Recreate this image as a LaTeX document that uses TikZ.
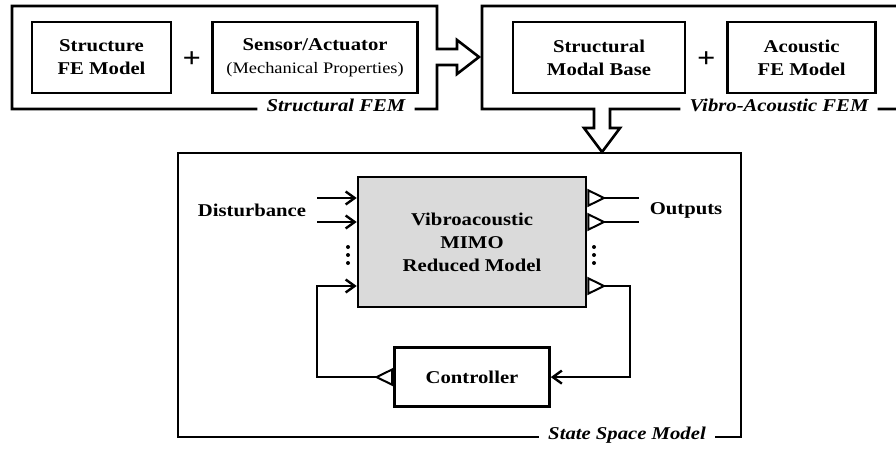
\documentclass[tikz,border=0pt]{standalone}
\usepackage{fontspec}
\setmainfont{Liberation Serif}[FakeStretch=1.15]
\definecolor{mimogray}{RGB}{218,218,218}
\usetikzlibrary{arrows.meta, positioning, calc}

\begin{document}
\begin{tikzpicture}[
  x=1pt, y=-1pt,
  line width=2.6pt,
  font=\fontsize{18}{23}\selectfont\bfseries,
  port/.tip={Triangle[open, reversed, length=19pt, width=18pt, line width=2pt]},
  barb/.tip={Straight Barb[length=9pt, width=13pt, line width=2.4pt]},
  box/.style={draw, line width=2.6pt, align=center, inner sep=0pt},
  frametag/.style={font=\fontsize{18}{23}\selectfont\bfseries\itshape,
                   inner xsep=8pt, inner ysep=0pt, text height=12pt, text depth=8pt},
  inarr/.style={-barb},
  outarr/.style={port-},
  looparr/.style={port-barb}
]
\useasboundingbox (0,0) rectangle (896,452);

% FE models
\node[box, minimum width=139, minimum height=71] (sfe) at (101.5,57.5) {Structure\\FE Model};
\node[box, minimum width=205, minimum height=71, right=39pt of sfe] (sensor)
  {Sensor/Actuator\\{\mdseries\fontsize{16}{20}\selectfont (Mechanical Properties)}};
\node (plus1) at ($(sfe.east)!0.5!(sensor.west)+(0,2)$) {\fontsize{28}{28}\selectfont +};

\node[box, minimum width=172, minimum height=71] (smb) at (599,57.5) {Structural\\Modal Base};
\node[box, minimum width=148, minimum height=71, right=40pt of smb] (afe) {Acoustic\\FE Model};
\node (plus2) at ($(smb.east)!0.5!(afe.west)+(0,2)$) {\fontsize{28}{28}\selectfont +};

% frames with hollow arrows
\node[frametag] (sfemtag) at (336,109) {Structural FEM};
\draw (sfemtag.east) -- (437,109) -- (437,65) -- (457,65) -- (457,74) -- (479,57)
  -- (457,40) -- (457,49) -- (437,49) -- (437,6) -- (12,6) -- (12,109) -- (sfemtag.west);

\node[frametag] (vatag) at (779,109) {Vibro-Acoustic FEM};
\draw (vatag.west) -- (610,109) -- (610,128) -- (620,128) -- (602,152) -- (584,128)
  -- (594,128) -- (594,109) -- (482,109) -- (482,6) -- (910,6) -- (910,109) -- (vatag.east);

\node[frametag] (sstag) at (627,437) {State Space Model};
\draw (sstag.east) -- (741,437) -- (741,153) -- (178,153) -- (178,437) -- (sstag.west);

% state space model
\node[box, fill=mimogray, minimum width=228, minimum height=130] (mimo) at (472,242)
  {Vibroacoustic\\MIMO\\Reduced Model};
\node[box, minimum width=155, minimum height=59, below=38pt of mimo] (ctrl) {Controller};

\coordinate (d1) at (317,198);
\coordinate (d2) at (317,222);
\coordinate (y1) at (639,198);
\coordinate (y2) at (639,222);
\coordinate (fbin) at (317,286);
\coordinate (fbout) at (630,286);

\node (dist) at (252,210) {Disturbance};
\node (outs) at (686,210) {Outputs};

\draw[inarr] (d1) -- (d1 -| mimo.west);
\draw[inarr] (d2) -- (d2 -| mimo.west);
\draw[outarr] (y1 -| mimo.east) -- (y1);
\draw[outarr] (y2 -| mimo.east) -- (y2);
\draw[looparr] (fbout -| mimo.east) -- (fbout) |- (ctrl.east);
\draw[looparr] (ctrl.west) -| (fbin) -- (fbin -| mimo.west);

\foreach \x in {348,594}
  \foreach \y in {247,255,263}
    \fill (\x,\y) circle (2pt);
\end{tikzpicture}
\end{document}
